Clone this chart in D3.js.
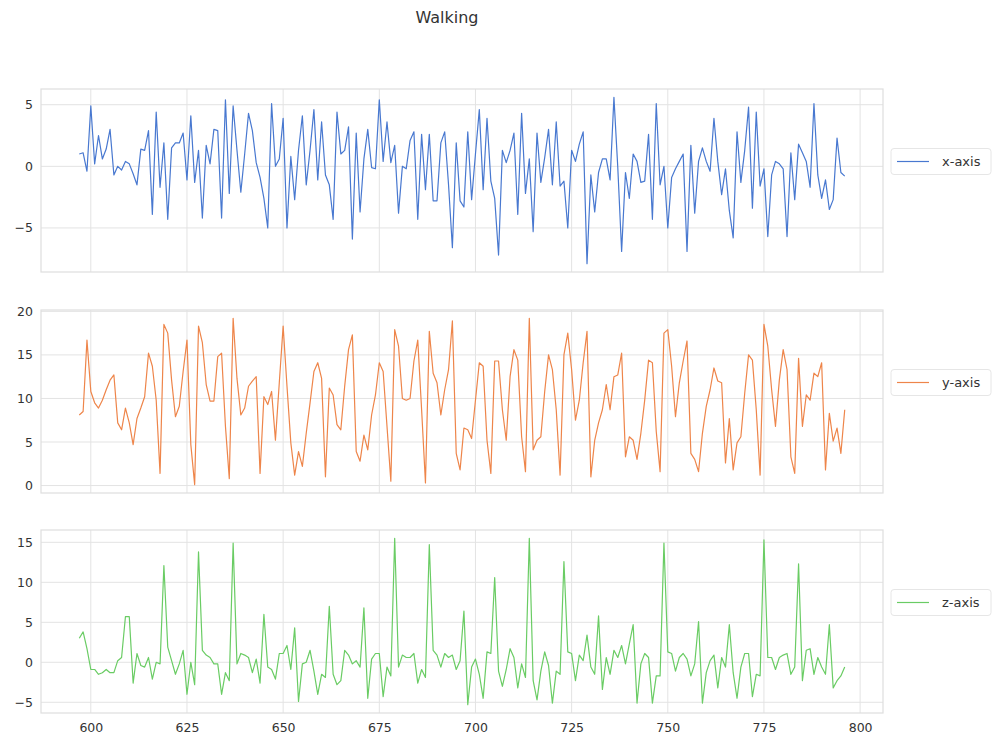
<!DOCTYPE html>
<html>
<head>
<meta charset="utf-8">
<script src="https://cdn.jsdelivr.net/npm/d3@7"></script>
<style>
  body { margin: 0; background: #fff; }
  text { font-family: "DejaVu Sans", sans-serif; fill: #333; }
</style>
</head>
<body>
<div id="chart"></div>
<script>
// sample index: 597 .. 796, one reading per step
var startIndex = 597;

var xAxisValues = [
  1.0, 1.1, -0.4, 4.9, 0.2, 2.5, 0.6, 1.4, 3.0, -0.7,
  0.0, -0.3, 0.4, 0.2, -0.6, -1.5, 1.4, 1.3, 2.9, -3.9,
  4.4, -1.7, 1.9, -4.3, 1.5, 1.9, 1.9, 2.7, -1.1, 4.1,
  -1.3, 1.3, -4.2, 1.7, 0.2, 3.0, 2.9, -4.2, 5.4, -2.2,
  4.9, 1.3, -2.1, 1.0, 4.3, 2.9, 0.3, -0.9, -2.6, -5.0,
  5.1, 0.0, 0.6, 3.9, -5.0, 0.8, -2.7, 1.3, 4.1, -1.5,
  1.3, 4.6, -1.1, 3.6, -0.7, -1.5, -4.3, 4.4, 1.0, 1.3,
  3.2, -5.9, 2.7, -3.7, 0.6, 3.0, -0.1, -0.2, 5.4, 0.4,
  3.6, 0.3, 1.7, -3.8, 0.0, -0.2, 2.1, 2.8, -4.3, 2.6,
  -1.9, 2.6, -2.8, -2.8, 1.9, 2.8, -1.5, -6.6, 1.9, -2.8,
  -3.3, 2.8, -2.7, 1.0, 4.6, -1.9, 3.9, -1.2, -2.6, -7.2,
  1.3, 0.3, 1.3, 2.7, -3.9, 4.3, -2.2, 0.6, -5.3, 2.7,
  -1.3, 0.7, 3.0, -1.5, 3.6, -1.6, -1.2, -5.0, 1.3, 0.4,
  1.8, 2.8, -7.9, -0.7, -3.7, -0.5, 0.6, 0.6, -1.1, 5.6,
  -0.1, -6.9, -0.5, -2.6, 1.0, 0.4, -1.3, -1.2, 2.6, -4.3,
  5.1, -1.5, 0.0, -5.0, -0.9, -0.2, 0.4, 1.0, -6.9, 1.7,
  -3.8, 0.4, 1.5, 0.4, -0.4, 3.9, 0.4, -2.3, -0.2, -3.6,
  -5.8, 2.8, -1.3, 1.3, 4.8, -3.4, 4.4, -1.6, -0.2, -5.7,
  -0.7, 0.4, 0.2, -0.2, -5.7, 1.1, -2.7, 1.8, 1.1, 0.4,
  -1.7, 5.1, -0.7, -2.6, -1.1, -3.5, -2.7, 2.3, -0.5, -0.8
];

var yAxisValues = [
  8.1, 8.5, 16.7, 10.8, 9.5, 8.9, 9.8, 11.0, 12.1, 12.7,
  7.2, 6.4, 8.9, 7.2, 4.7, 7.7, 8.9, 10.2, 15.2, 13.7,
  9.8, 1.4, 18.5, 17.5, 12.1, 7.9, 9.1, 13.1, 16.7, 4.7,
  0.1, 18.3, 16.4, 11.6, 9.7, 9.7, 14.8, 15.2, 6.8, 0.8,
  19.2, 12.3, 8.1, 8.9, 11.4, 12.0, 12.5, 1.4, 10.2, 9.3,
  10.8, 5.2, 11.8, 18.3, 11.4, 4.9, 1.2, 3.9, 2.2, 6.0,
  9.5, 13.1, 14.1, 12.3, 1.0, 11.2, 10.4, 7.0, 6.4, 11.4,
  15.6, 17.3, 3.9, 2.8, 5.8, 4.1, 8.1, 10.4, 14.1, 13.1,
  6.8, 0.5, 17.9, 16.0, 10.0, 9.8, 10.0, 14.3, 16.7, 8.7,
  0.3, 17.7, 12.9, 11.8, 8.1, 11.0, 13.3, 18.9, 3.7, 1.8,
  6.6, 6.4, 5.4, 9.8, 14.1, 13.7, 5.2, 1.4, 14.3, 14.3,
  8.7, 5.2, 12.5, 15.6, 14.4, 5.6, 1.6, 19.2, 4.1, 5.2,
  5.6, 10.8, 15.0, 13.3, 8.7, 1.2, 15.0, 17.5, 13.3, 7.5,
  9.8, 14.1, 17.7, 1.0, 5.2, 7.2, 8.7, 11.6, 8.7, 12.5,
  12.7, 15.2, 3.3, 5.6, 5.2, 3.0, 6.0, 9.8, 14.4, 14.1,
  6.2, 1.6, 17.5, 17.9, 13.7, 7.9, 11.8, 14.3, 16.6, 3.7,
  3.0, 1.6, 6.0, 9.1, 11.0, 13.5, 12.0, 11.8, 2.6, 7.7,
  1.8, 4.9, 5.6, 10.6, 15.0, 14.4, 8.7, 1.2, 18.5, 16.0,
  11.0, 6.8, 12.1, 15.6, 13.3, 3.3, 1.4, 14.6, 6.8, 10.4,
  9.8, 12.9, 12.5, 14.1, 1.8, 8.3, 5.1, 6.6, 3.7, 8.7
];

var zAxisValues = [
  3.0, 3.8, 1.7, -0.9, -0.9, -1.5, -1.3, -0.9, -1.3, -1.3,
  0.2, 0.6, 5.7, 5.7, -2.6, 1.1, -0.4, -0.6, 0.6, -2.1,
  0.0, -0.2, 12.1, 1.9, 0.2, -1.5, -0.2, 1.5, -4.0, 0.0,
  -2.8, 13.8, 1.5, 0.9, 0.6, -0.2, -0.2, -4.0, -1.3, -2.3,
  14.9, -0.2, 1.1, 0.9, 0.6, -1.3, 0.4, -2.6, 6.0, -0.6,
  -0.9, -2.1, 1.1, 1.1, 2.1, -0.9, 4.3, -4.9, -0.2, 0.0,
  1.5, -1.1, -4.0, -1.5, -1.9, 7.0, -1.5, -2.8, -2.3, 1.5,
  0.9, -0.2, 0.2, -0.6, 6.8, -4.5, 0.4, 1.1, 1.1, -4.3,
  -0.6, -1.7, 15.5, -0.6, 0.9, 0.6, 0.6, 1.1, -2.6, -0.9,
  -1.9, 14.7, 1.5, 0.9, -0.6, 1.1, 0.6, 0.9, -0.9, 0.2,
  6.4, -5.3, -0.6, 0.4, -1.5, -4.5, 1.3, 1.1, 10.6, -1.1,
  -3.0, -0.9, 1.7, 0.6, -3.2, -0.2, -1.9, 15.5, -2.3, -4.7,
  -1.1, 1.3, -0.4, -5.1, -1.1, -1.5, 12.6, 1.3, 1.1, -2.3,
  0.9, 0.2, 3.4, -0.6, -1.5, 5.8, -3.4, 0.6, -1.5, 1.5,
  0.6, 2.1, -0.2, 2.3, 4.7, -5.1, -0.2, 1.1, 0.6, -5.1,
  -1.7, -1.7, 14.9, 1.3, 1.1, -1.1, 0.6, 1.1, 0.4, -1.7,
  -0.2, 5.1, -5.1, -1.3, 0.2, 0.9, -3.2, 0.6, -0.6, 4.7,
  -1.3, -4.5, -0.6, 1.1, 1.1, -4.3, -1.5, -1.7, 15.3, 0.6,
  0.6, -0.9, 0.6, 0.9, 1.1, -1.5, -0.6, 12.3, -2.3, 1.5,
  1.7, -1.5, 0.6, -0.6, -1.5, 4.7, -3.2, -2.3, -1.7, -0.6
];

var seriesNames = ["x-axis", "y-axis", "z-axis"];
var seriesColors = ["#4878d0", "#ee854a", "#6acc64"];
var xTicks = [600, 625, 650, 675, 700, 725, 750, 775, 800];
var yTicksX = [-5, 0, 5];
var yTicksY = [0, 5, 10, 15, 20];
var yTicksZ = [-5, 0, 5, 10, 15];
var chartTitle = "Walking";

var svgWidth = 992;
var svgHeight = 740;

var margin = { left: 41, right: 109 };
var width = svgWidth - margin.left - margin.right;
var panelHeight = 183;
var panelTops = [89, 310, 530];

var svg = d3.select("#chart")
    .append("svg")
    .attr("width", svgWidth)
    .attr("height", svgHeight);

svg.append("text")
    .attr("x", 447)
    .attr("y", 23)
    .attr("text-anchor", "middle")
    .attr("font-size", "16px")
    .text(chartTitle);

var index = d3.range(startIndex, startIndex + xAxisValues.length);

// matplotlib-like 5% padding on both axes
function padded(extent) {
    var pad = (extent[1] - extent[0]) * 0.05;
    return [extent[0] - pad, extent[1] + pad];
}

var xScale = d3.scaleLinear()
    .domain(padded(d3.extent(index)))
    .range([0, width]);

var panels = [
    { values: xAxisValues, ticks: yTicksX },
    { values: yAxisValues, ticks: yTicksY },
    { values: zAxisValues, ticks: yTicksZ }
];

panels.forEach(function(p, i) {
    var g = svg.append("g")
        .attr("transform", `translate(${margin.left}, ${panelTops[i]})`);

    var yScale = d3.scaleLinear()
        .domain(padded(d3.extent(p.values)))
        .range([panelHeight, 0]);

    // grid
    g.selectAll(".hgrid")
        .data(p.ticks)
        .enter()
        .append("line")
        .attr("x1", 0)
        .attr("x2", width)
        .attr("y1", d => yScale(d))
        .attr("y2", d => yScale(d))
        .attr("stroke", "#e3e3e3")
        .attr("stroke-width", 1);

    g.selectAll(".vgrid")
        .data(xTicks)
        .enter()
        .append("line")
        .attr("x1", d => xScale(d))
        .attr("x2", d => xScale(d))
        .attr("y1", 0)
        .attr("y2", panelHeight)
        .attr("stroke", "#e3e3e3")
        .attr("stroke-width", 1);

    // frame
    g.append("rect")
        .attr("width", width)
        .attr("height", panelHeight)
        .attr("fill", "none")
        .attr("stroke", "#dedede")
        .attr("stroke-width", 1.2);

    // y axis labels
    var leftAxis = d3.axisLeft(yScale)
        .tickValues(p.ticks)
        .tickSize(0)
        .tickPadding(8);
    var ya = g.append("g").call(leftAxis);
    ya.select(".domain").remove();
    ya.selectAll("text").attr("font-size", "12.5px").style("font-family", "DejaVu Sans, sans-serif").attr("fill", "#333");

    var line = d3.line()
        .x((d, j) => xScale(index[j]))
        .y(d => yScale(d));

    g.append("path")
        .datum(p.values)
        .attr("fill", "none")
        .attr("stroke", seriesColors[i])
        .attr("stroke-width", 1.2)
        .attr("stroke-linejoin", "round")
        .attr("d", line);

    // legend
    var lg = g.append("g")
        .attr("transform", `translate(${width + 8}, ${panelHeight / 2 - 32})`);
    lg.append("rect")
        .attr("width", 100)
        .attr("height", 26)
        .attr("rx", 3)
        .attr("fill", "#fff")
        .attr("stroke", "#e6e6e6");
    lg.append("line")
        .attr("x1", 6)
        .attr("x2", 38)
        .attr("y1", 13)
        .attr("y2", 13)
        .attr("stroke", seriesColors[i])
        .attr("stroke-width", 1.2);
    lg.append("text")
        .attr("x", 51)
        .attr("y", 17.5)
        .attr("font-size", "13px")
        .text(seriesNames[i]);

    if (i === 2) {
        var bottomAxis = d3.axisBottom(xScale)
            .tickValues(xTicks)
            .tickSize(0)
            .tickPadding(10);
        var xa = g.append("g")
            .attr("transform", `translate(0, ${panelHeight})`)
            .call(bottomAxis);
        xa.select(".domain").remove();
        xa.selectAll("text").attr("font-size", "12.5px").style("font-family", "DejaVu Sans, sans-serif").attr("fill", "#333");
    }
});
</script>
</body>
</html>
